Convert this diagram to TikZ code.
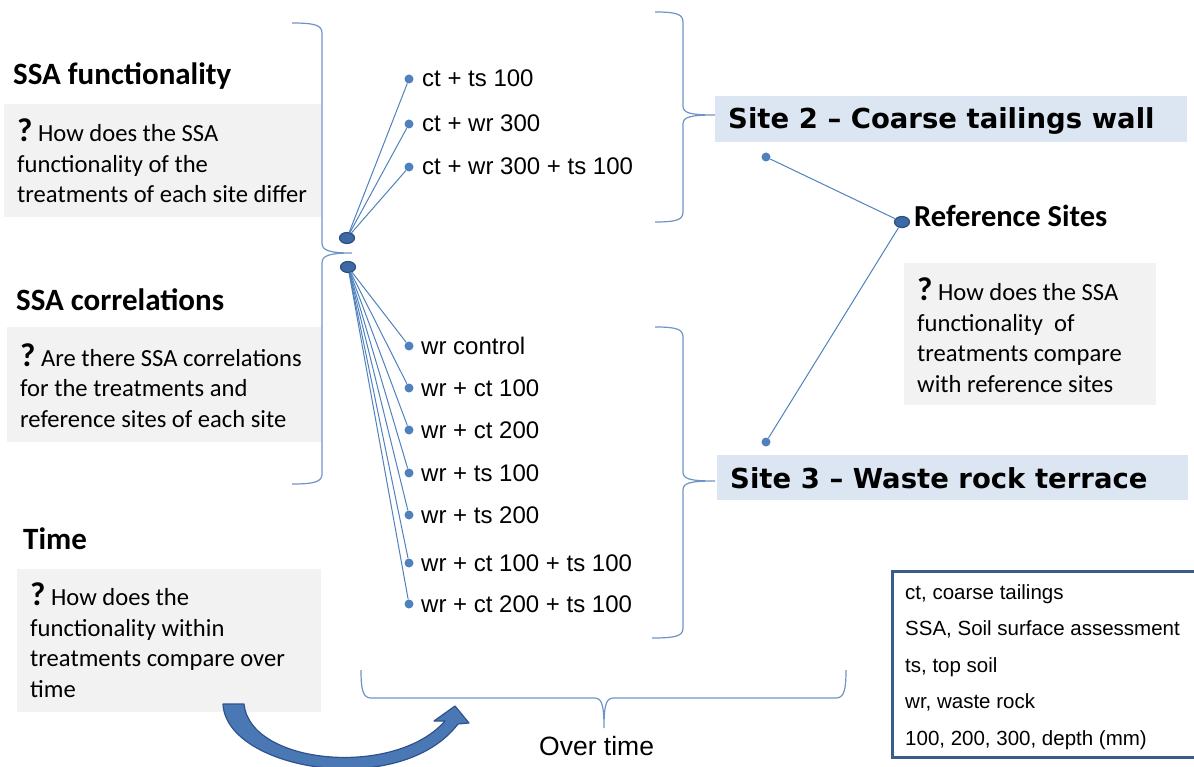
\documentclass[tikz,border=0pt]{standalone}
\usepackage{fontspec}
\setmainfont{Carlito}
\newfontfamily\arialf{Liberation Sans}
\newfontfamily\verdf{DejaVu Sans}
\usetikzlibrary{shapes.geometric}
\definecolor{lnblue}{HTML}{4F81BD}
\definecolor{brblue}{HTML}{6F93C6}
\definecolor{hubfill}{HTML}{3D6AA4}
\definecolor{hubline}{HTML}{2B4E7C}
\definecolor{greybox}{HTML}{F2F2F2}
\definecolor{sitebox}{HTML}{DCE6F2}
\definecolor{legline}{HTML}{385D8A}
\definecolor{arrfill}{HTML}{4A78B5}
\definecolor{arrline}{HTML}{2F528F}
\begin{document}
\begin{tikzpicture}[x=1pt,y=-1pt,
  heading/.style={anchor=base west, inner sep=0, font=\fontsize{31}{36}\selectfont\bfseries},
  qtext/.style={anchor=base west, inner sep=0, align=left, font=\fontsize{24.6}{30.5}\selectfont},
  item/.style={anchor=base west, inner sep=0, font=\arialf\fontsize{24}{28}\selectfont},
  sitetext/.style={anchor=base west, inner sep=0, font=\verdf\bfseries\fontsize{27.5}{32}\selectfont},
  legtext/.style={anchor=base west, inner sep=0, align=left, font=\arialf\fontsize{20.5}{36.5}\selectfont},
  tdot/.style={circle, fill=lnblue, inner sep=0, minimum size=9pt},
  hub/.style={ellipse, fill=hubfill, draw=hubline, line width=1.2pt, inner sep=0, minimum width=15pt, minimum height=11pt},
  link/.style={draw=lnblue, line width=1pt},
  brace/.style={draw=brblue, line width=1.2pt}
]
\newcommand\qm{{\fontsize{33}{33}\selectfont\bfseries ?}\ }
\useasboundingbox (0,0) rectangle (1194,767);

% grey question boxes
\fill[greybox] (4,104) rectangle (321,217);
\fill[greybox] (7,327) rectangle (322,442);
\fill[greybox] (17,569) rectangle (321,712);
\fill[greybox] (904,263) rectangle (1156,405);

% headings
\node[heading] (h1) at (13,85) {SSA functionality};
\node[heading] (h2) at (16,311) {SSA correlations};
\node[heading] (h3) at (23,549) {Time};

% question texts (anchored at the baseline of their last line)
\node[qtext] (q1) at (17,203) {\qm How does the SSA\\functionality of the\\treatments of each site differ};
\node[qtext] (q2) at (20,427) {\qm Are there SSA correlations\\for the treatments and\\reference sites of each site};
\node[qtext] (q3) at (30,697) {\qm How does the\\functionality within\\treatments compare over\\time};
\node[qtext] (q4) at (917,392) {\qm How does the SSA\\functionality\ \ of\\treatments compare\\with reference sites};

% left brace
\draw[brace] (292,23) .. controls (314,23) and (322,25) .. (322,33) -- (322,243)
  .. controls (322,250) and (328,253) .. (352,253)
  .. controls (328,253) and (322,256) .. (322,263) -- (322,474)
  .. controls (322,482) and (314,484) .. (292,484);

% hubs
\node[hub] (hubA) at (347,238) {};
\node[hub] (hubB) at (348,267) {};

% site 2 treatments
\foreach \n/\y/\t in {a1/79/{ct + ts 100}, a2/124/{ct + wr 300}, a3/167/{ct + wr 300 + ts 100}}{
  \node[tdot] (\n) at (409,\y) {};
  \node[item] (\n t) at (422,\y+8) {\t};
  \draw[link] (hubA) -- (\n);
}
% site 3 treatments
\foreach \n/\y/\t in {b1/346/{wr control}, b2/388/{wr + ct 100}, b3/430/{wr + ct 200}, b4/473/{wr + ts 100}, b5/515/{wr + ts 200}, b6/563/{wr + ct 100 + ts 100}, b7/604/{wr + ct 200 + ts 100}}{
  \node[tdot] (\n) at (409,\y) {};
  \node[item] (\n t) at (421,\y+8) {\t};
  \draw[link] (hubB) -- (\n);
}

% right braces
\draw[brace] (655,12) .. controls (676,12) and (683,14) .. (683,22) -- (683,106)
  .. controls (683,113) and (690,115) .. (715,115)
  .. controls (690,115) and (683,117) .. (683,124) -- (683,212)
  .. controls (683,220) and (676,222) .. (655,222);
\draw[brace] (655,327) .. controls (676,327) and (683,329) .. (683,337) -- (683,472)
  .. controls (683,479) and (690,481) .. (715,481)
  .. controls (690,481) and (683,483) .. (683,490) -- (683,628)
  .. controls (683,636) and (676,638) .. (652,638);

% site boxes
\fill[sitebox] (715,96) rectangle (1187,142);
\node[sitetext] (s2) at (728,129) {Site 2 – Coarse tailings wall};
\fill[sitebox] (717,455) rectangle (1188,500);
\node[sitetext] (s3) at (730,488) {Site 3 – Waste rock terrace};

% reference sites
\node[tdot] (r1) at (766,157) {};
\node[tdot] (r2) at (766,442) {};
\node[hub] (rhub) at (902,222) {};
\draw[link] (rhub) -- (r1);
\draw[link] (rhub) -- (r2);
\node[heading, font=\fontsize{30.5}{36}\selectfont\bfseries] (rs) at (914,227) {Reference Sites};

% bottom brace
\draw[brace] (361,670) .. controls (361,690) and (363,698) .. (371,698) -- (594,698)
  .. controls (601,698) and (604,702) .. (604,728)
  .. controls (604,702) and (607,698) .. (614,698) -- (836,698)
  .. controls (844,698) and (846,690) .. (846,670);
\node[item, font=\arialf\fontsize{26.5}{30}\selectfont] (ot) at (539,755) {Over time};

% curved arrow
\filldraw[fill=arrfill, draw=arrline, line width=1.2pt, line join=round]
  (223,704) .. controls (226,770) and (400,800) .. (458,724)
  -- (469,723) -- (455,706) -- (434,721) -- (445,721)
  .. controls (395,778) and (250,765) .. (244,704) -- cycle;

% legend
\draw[legline, line width=3pt] (1200,571) -- (892,571) -- (892,757) -- (1200,757);
\node[legtext] (leg) at (905,745) {ct, coarse tailings\\SSA, Soil surface assessment\\ts, top soil\\wr, waste rock\\100, 200, 300, depth (mm)};
\end{tikzpicture}
\end{document}
